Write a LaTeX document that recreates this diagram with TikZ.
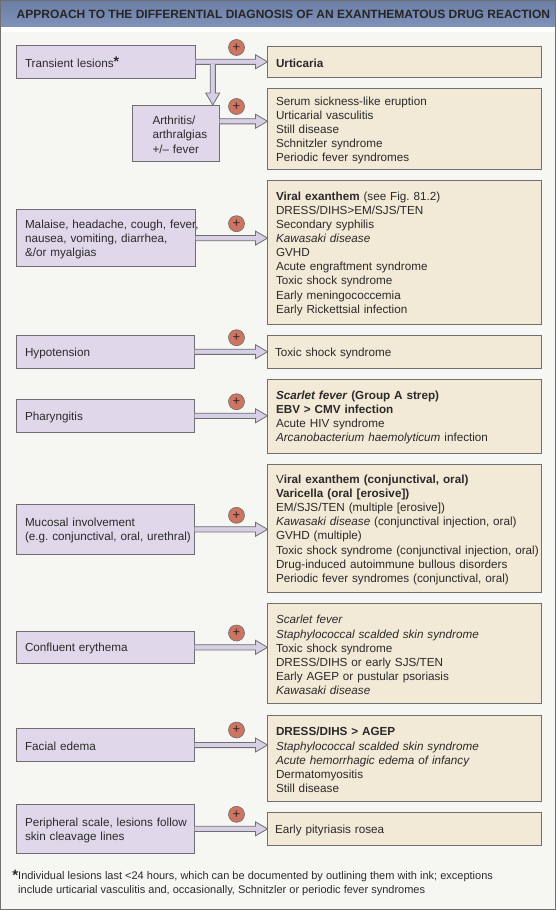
\documentclass[tikz,border=0pt]{standalone}
\usepackage{fontspec}
\setmainfont{Liberation Sans}
\usetikzlibrary{calc}
\definecolor{pagebg}{HTML}{F6F7F3}
\definecolor{headbg}{HTML}{7488B2}
\definecolor{lfill}{HTML}{E0D8EA}
\definecolor{rfill}{HTML}{F3E9D7}
\definecolor{edge}{HTML}{6F6F70}
\definecolor{ink}{HTML}{2A2A2A}
\definecolor{shaft}{HTML}{D6CFE6}
\definecolor{plusred}{HTML}{CE7460}
\tikzset{
  x=1pt,y=-1pt,
  bodytext/.style={font=\fontsize{11.7}{14.1}\selectfont\frenchspacing,text=ink},
  anybox/.style={bodytext,draw=edge,line width=0.8pt,rectangle,anchor=north west,outer sep=0pt,inner ysep=0pt,align=left,execute at begin node={\rule{0pt}{11.6pt}}},
  lbox/.style={anybox,fill=lfill,inner xsep=9pt,minimum width=#1,text width=#1-18pt},
  rbox/.style={anybox,fill=rfill,inner xsep=8.5pt,minimum width=274pt,text width=257pt},
  plusmark/.style={circle,draw=edge,line width=0.6pt,fill=plusred,minimum size=16pt,inner sep=0pt,text=ink,font=\fontsize{13}{13}\selectfont},
  hblock/.style={draw=edge,fill=shaft,line width=0.8pt,to path={
    ($(\tikztostart)+(0,-2.6)$) -- ($(\tikztotarget)+(-12,-2.6)$) -- ($(\tikztotarget)+(-12,-7)$) -- (\tikztotarget)
    -- ($(\tikztotarget)+(-12,7)$) -- ($(\tikztotarget)+(-12,2.6)$) -- ($(\tikztostart)+(0,2.6)$)}},
  vblock/.style={draw=edge,fill=shaft,line width=0.8pt,to path={
    ($(\tikztostart)+(-2.6,0)$) -- ($(\tikztotarget)+(-2.6,-12)$) -- ($(\tikztotarget)+(-7,-12)$) -- (\tikztotarget)
    -- ($(\tikztotarget)+(7,-12)$) -- ($(\tikztotarget)+(2.6,-12)$) -- ($(\tikztostart)+(2.6,0)$)}},
}
\begin{document}
\begin{tikzpicture}
\useasboundingbox (0,0) rectangle (556,910);
\fill[pagebg] (0,0) rectangle (556,910);
\fill[white] (0,26) rectangle (556,31.5);
\shade[top color=headbg!92!black,bottom color=headbg!92!white] (0,0) rectangle (556,26.5);
\draw[edge,line width=1.2pt] (0.6,0.6) rectangle (555.4,909.4);
\node[anchor=base west,inner sep=0pt,text=ink!90!black,font=\fontsize{12}{14}\selectfont\bfseries] (title) at (16.5,18) {APPROACH TO THE DIFFERENTIAL DIAGNOSIS OF AN EXANTHEMATOUS DRUG REACTION};

% left boxes
\node[lbox=179.5,minimum height=32.5pt] (trans) at (16,45.5) {Transient lesions\textbf{\raisebox{.5pt}{\fontsize{14}{14}\selectfont *}}};
\node[anybox,fill=lfill,inner xsep=20.5pt,minimum width=87.5pt,text width=46.5pt,minimum height=56.5pt] (arth) at (132,105) {\mbox{Arthritis/}\\\mbox{arthralgias}\\\mbox{+/– fever}};
\node[lbox=179.5,minimum height=57.2pt] (mal) at (16,209.5) {\mbox{Malaise, headache, cough, fever,}\\nausea, vomiting, diarrhea,\\\&/or myalgias};
\node[lbox=178.5,minimum height=32.5pt] (hypo) at (16,335.5) {Hypotension};
\node[lbox=178.5,minimum height=33pt] (phar) at (16,399.3) {Pharyngitis};
\node[lbox=178.5,minimum height=50pt] (muc) at (16,504.3) {Mucosal involvement\\\mbox{(e.g. conjunctival, oral, urethral)}};
\node[lbox=178.5,minimum height=32pt] (conf) at (16,631.3) {Confluent erythema};
\node[lbox=178.5,minimum height=33.4pt] (fac) at (16,728.3) {Facial edema};
\node[lbox=178.5,minimum height=49.7pt] (peri) at (16,804) {\mbox{Peripheral scale, lesions follow}\\skin cleavage lines};

% right boxes
\node[rbox,minimum height=30.5pt] (urt) at (267.5,46.5) {\textbf{Urticaria}};
\node[rbox,minimum height=81.5pt] (serum) at (267.5,88) {Serum sickness-like eruption\\Urticarial vasculitis\\Still disease\\Schnitzler syndrome\\Periodic fever syndromes};
\node[rbox,minimum height=144.3pt] (viral) at (267.5,180) {\textbf{Viral exanthem} (see Fig. 81.2)\\DRESS/DIHS>EM/SJS/TEN\\Secondary syphilis\\\textit{Kawasaki disease}\\GVHD\\Acute engraftment syndrome\\Toxic shock syndrome\\Early meningococcemia\\Early Rickettsial infection};
\node[rbox,minimum height=32.5pt] (tss) at (267.5,335.5) {\hspace*{-1pt}Toxic shock syndrome};
\node[rbox,minimum height=74.3pt] (scar) at (267.5,379) {\textbf{\textit{Scarlet fever} (Group A strep)}\\\textbf{EBV > CMV infection}\\Acute HIV syndrome\\\textit{Arcanobacterium haemolyticum} infection};
\node[rbox,minimum height=128pt] (vir2) at (267.5,464.3) {V\textbf{iral exanthem (conjunctival, oral)}\\\textbf{Varicella (oral [erosive])}\\EM/SJS/TEN (multiple [erosive])\\\textit{Kawasaki disease} (conjunctival injection, oral)\\GVHD (multiple)\\\mbox{Toxic shock syndrome (conjunctival injection, oral)}\\Drug-induced autoimmune bullous disorders\\Periodic fever syndromes (conjunctival, oral)};
\node[rbox,minimum height=100.4pt] (ery) at (267.5,603.3) {\textit{Scarlet fever}\\\textit{Staphylococcal scalded skin syndrome}\\Toxic shock syndrome\\DRESS/DIHS or early SJS/TEN\\Early AGEP or pustular psoriasis\\\textit{Kawasaki disease}};
\node[rbox,minimum height=86.7pt] (dress) at (267.5,715) {\textbf{DRESS/DIHS > AGEP}\\\textit{Staphylococcal scalded skin syndrome}\\\textit{Acute hemorrhagic edema of infancy}\\Dermatomyositis\\Still disease};
\node[rbox,minimum height=32.3pt] (pit) at (267.5,812.7) {\hspace*{-1pt}Early pityriasis rosea};

% block arrows
\draw[hblock] (trans.east) to (trans.east -| urt.west);
\coordinate (branch) at (212.75,63.9);
\draw[vblock] (branch) to (branch |- arth.north);
\draw[hblock] ([yshift=12pt]arth.east) to ([yshift=12pt]arth.east -| serum.west);
\draw[hblock] (mal.east) to (mal.east -| viral.west);
\draw[hblock] (hypo.east) to (hypo.east -| tss.west);
\draw[hblock] (phar.east) to (phar.east -| scar.west);
\draw[hblock] (muc.east) to (muc.east -| vir2.west);
\draw[hblock] (conf.east) to (conf.east -| ery.west);
\draw[hblock] (fac.east) to (fac.east -| dress.west);
\draw[hblock] (peri.east) to (peri.east -| pit.west);

% plus marks
\node[plusmark] (p1) at (236.5,47.5) {+};
\node[plusmark] (p2) at (236.5,106.5) {+};
\node[plusmark] (p3) at (236.5,223.7) {+};
\node[plusmark] (p4) at (236.5,337.7) {+};
\node[plusmark] (p5) at (236.5,401.7) {+};
\node[plusmark] (p6) at (236.5,515.3) {+};
\node[plusmark] (p7) at (236.5,633) {+};
\node[plusmark] (p8) at (236.5,730) {+};
\node[plusmark] (p9) at (236.5,814.3) {+};

% footnote
\node[anchor=north west,inner sep=0pt,align=left,text=ink,font=\fontsize{11}{13.6}\selectfont] (foot) at (18,870.2) {\llap{\textbf{\raisebox{-1pt}{\fontsize{15}{15}\selectfont *}}}\mbox{Individual lesions last <24 hours, which can be documented by outlining them with ink; exceptions}\\\mbox{include urticarial vasculitis and, occasionally, Schnitzler or periodic fever syndromes}};
\end{tikzpicture}
\end{document}
